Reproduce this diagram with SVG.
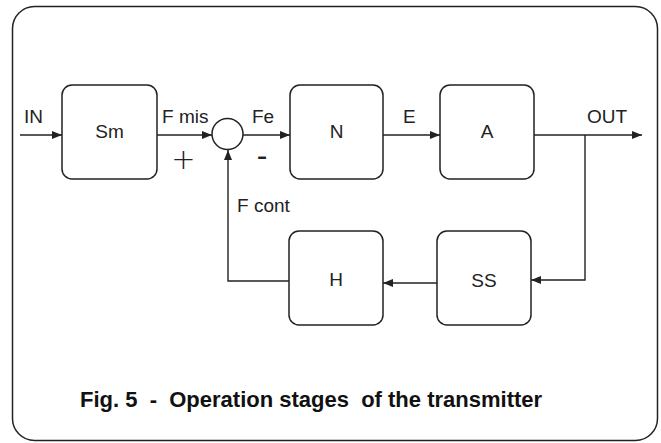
<svg xmlns="http://www.w3.org/2000/svg" width="661" height="443" viewBox="0 0 661 443">
<style>
.box{fill:#fff;stroke:#222;stroke-width:1.5}
.ln{fill:none;stroke:#222;stroke-width:1.4}
.t{font-family:"Liberation Sans",Arial,sans-serif;font-size:19px;fill:#222}
.tc{text-anchor:middle}
.cap{font-family:"Liberation Sans",Arial,sans-serif;font-size:22px;font-weight:bold;fill:#111;white-space:pre}
</style>
<defs>
<marker id="ah" markerWidth="10" markerHeight="8" refX="10" refY="4" orient="auto" markerUnits="userSpaceOnUse">
<path d="M0,0 L10,4 L0,8 Z" fill="#222"/>
</marker>
</defs>
<rect x="12.5" y="6.5" width="645" height="434" rx="22" fill="#fff" stroke="#222" stroke-width="1.5"/>
<g id="connectors">
<line class="ln" x1="20" y1="135" x2="62" y2="135" marker-end="url(#ah)"/>
<line class="ln" x1="157" y1="135" x2="212" y2="135" marker-end="url(#ah)"/>
<line class="ln" x1="243" y1="135" x2="290" y2="135" marker-end="url(#ah)"/>
<line class="ln" x1="383" y1="135" x2="440" y2="135" marker-end="url(#ah)"/>
<line class="ln" x1="534" y1="135" x2="642" y2="135" marker-end="url(#ah)"/>
<polyline class="ln" points="585,135 585,280 531,280" marker-end="url(#ah)"/>
<line class="ln" x1="437" y1="283" x2="383" y2="283" marker-end="url(#ah)"/>
<polyline class="ln" points="289,281 228,281 228,150" marker-end="url(#ah)"/>
</g>
<g id="labels">
<text class="t" x="24" y="123">IN</text>
<text class="t" x="162" y="123">F mis</text>
<text class="t" x="252" y="123">Fe</text>
<text class="t" x="403" y="123">E</text>
<text class="t" x="587" y="123">OUT</text>
<text class="t" x="237" y="212">F cont</text>
<text x="183.5" y="169" text-anchor="middle" style="font-family:'DejaVu Sans',sans-serif;font-weight:200;font-size:29px;fill:#222">+</text>
<text x="262" y="166" text-anchor="middle" style="font-family:'Liberation Sans',Arial,sans-serif;font-size:32px;fill:#222">-</text>
</g>
<g id="node-Sm"><rect class="box" x="62" y="85" width="95" height="94" rx="10"/><text class="t tc" x="109.5" y="138">Sm</text></g>
<g id="node-sum"><circle cx="227.5" cy="134" r="15.5" fill="#fff" stroke="#222" stroke-width="1.5"/></g>
<g id="node-N"><rect class="box" x="290" y="85" width="93" height="94" rx="10"/><text class="t tc" x="336.5" y="138">N</text></g>
<g id="node-A"><rect class="box" x="440" y="85" width="94" height="94" rx="10"/><text class="t tc" x="487" y="138">A</text></g>
<g id="node-SS"><rect class="box" x="437" y="231" width="94" height="94" rx="10"/><text class="t tc" x="484" y="287">SS</text></g>
<g id="node-H"><rect class="box" x="289" y="231" width="94" height="94" rx="10"/><text class="t tc" x="336" y="286">H</text></g>
<text class="cap" x="80" y="407">Fig. 5  -  Operation stages  of the transmitter</text>
</svg>
